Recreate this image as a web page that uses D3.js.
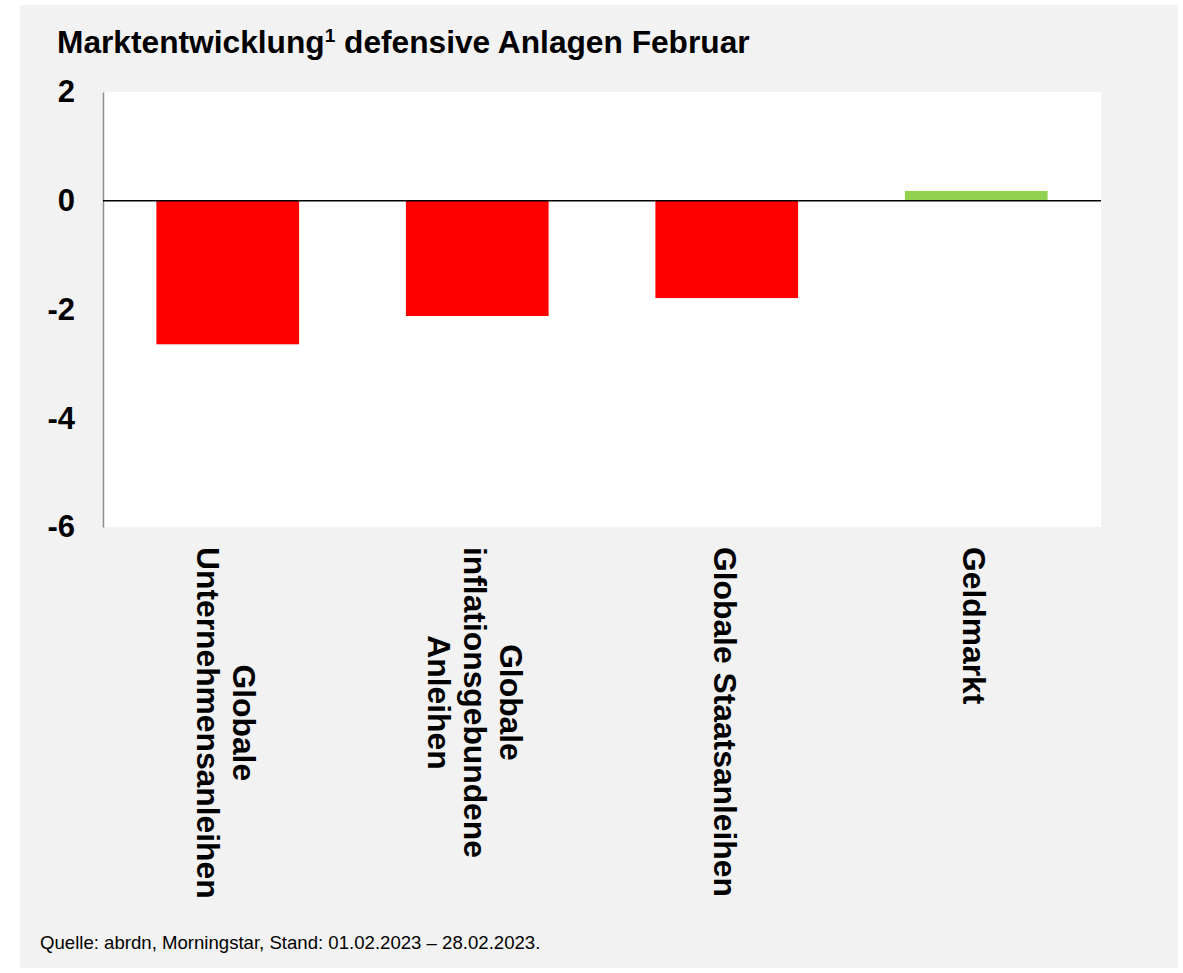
<!DOCTYPE html>
<html>
<head>
<meta charset="utf-8">
<script src="https://cdn.jsdelivr.net/npm/d3@7"></script>
<style>
    body { margin: 0; background: #ffffff; }
    svg { display: block; font-family: "Liberation Sans", Arial, sans-serif; }
</style>
</head>
<body>
<div id="chart"></div>
<script>
//DATA
let categories = [
    ['Globale', 'Unternehmensanleihen'],
    ['Globale', 'inflationsgebundene', 'Anleihen'],
    ['Globale Staatsanleihen'],
    ['Geldmarkt']
];
let values = [-2.64, -2.12, -1.79, 0.18];
let barColors = ['#ff0000', '#ff0000', '#ff0000', '#92d050'];
let yTicks = [2, 0, -2, -4, -6];
let title = 'Marktentwicklung';
let titleRest = ' defensive Anlagen Februar';
let source = 'Quelle: abrdn, Morningstar, Stand: 01.02.2023 \u2013 28.02.2023.';

//VARIABLES
let width = 1183, height = 973;
let margin = {top: 92, right: 82, bottom: 446, left: 103};
let innerW = width - margin.left - margin.right,
    innerH = height - margin.top - margin.bottom;

let svg = d3.select('#chart')
    .append('svg')
        .attr('width', width)
        .attr('height', height);

//Panel background
svg.append('rect')
    .attr('x', 20).attr('y', 5)
    .attr('width', 1158).attr('height', 963)
    .attr('fill', '#f2f2f2');

//Title
let titleText = svg.append('text')
    .attr('x', 57).attr('y', 53)
    .attr('font-size', 31.7)
    .attr('font-weight', 'bold')
    .attr('fill', '#000');
titleText.append('tspan').text(title);
titleText.append('tspan').text('1')
    .attr('font-size', 19)
    .attr('dy', -11);
titleText.append('tspan').text(titleRest)
    .attr('dy', 11);

let chart = svg.append('g')
    .attr('transform', 'translate(' + margin.left + ',' + margin.top + ')');

//Plot area
chart.append('rect')
    .attr('width', innerW)
    .attr('height', innerH)
    .attr('fill', '#ffffff');

//Scales
let x = d3.scaleBand()
    .domain(d3.range(categories.length))
    .range([0, innerW])
    .paddingInner(0.428)
    .paddingOuter(0.214);

let y = d3.scaleLinear()
    .domain([-6, 2])
    .range([innerH, 0]);

//Bars
chart.selectAll('.bar')
    .data(values)
    .enter()
    .append('rect')
    .attr('class', 'bar')
    .attr('x', function(d, i) { return x(i); })
    .attr('width', x.bandwidth())
    .attr('y', function(d) { return y(Math.max(0, d)); })
    .attr('height', function(d) { return Math.abs(y(d) - y(0)); })
    .attr('fill', function(d, i) { return barColors[i]; });

//Y Axis (plain hyphen for negatives, like the original)
let yAxis = chart.append('g')
    .attr('class', 'y_axis')
    .call(d3.axisLeft(y)
        .tickValues(yTicks)
        .tickFormat(function(d) { return String(d); })
        .tickSize(0)
        .tickPadding(28));
yAxis.select('.domain').attr('stroke', '#8c8c8c').attr('stroke-width', 1.5);
yAxis.selectAll('.tick text')
    .attr('font-family', '"Liberation Sans", Arial, sans-serif')
    .attr('font-size', 31)
    .attr('font-weight', 'bold')
    .attr('fill', '#000');

//Zero line
chart.append('line')
    .attr('x1', 0).attr('x2', innerW)
    .attr('y1', y(0)).attr('y2', y(0))
    .attr('stroke', '#000')
    .attr('stroke-width', 1.5);

//Category labels (rotated)
let lineH = 36;
let labels = chart.selectAll('.cat')
    .data(categories)
    .enter()
    .append('g')
    .attr('class', 'cat')
    .attr('transform', function(d, i) {
        return 'translate(' + (x(i) + x.bandwidth() / 2 - 2) + ',' + (innerH + 20) + ') rotate(90)';
    });

labels.each(function(lines) {
    let g = d3.select(this);
    let texts = g.selectAll('text')
        .data(lines)
        .enter()
        .append('text')
        .attr('font-size', 31.8)
        .attr('font-weight', 'bold')
        .attr('fill', '#000')
        .attr('text-anchor', 'middle')
        .attr('dominant-baseline', 'central')
        .attr('y', function(d, j) { return (j - (lines.length - 1) / 2) * lineH; })
        .text(function(d) { return d; });
    let maxLen = 0;
    texts.each(function() { maxLen = Math.max(maxLen, this.getComputedTextLength()); });
    texts.attr('x', maxLen / 2);
});

//Source
svg.append('text')
    .attr('x', 40).attr('y', 949)
    .attr('font-size', 18.6)
    .attr('fill', '#000')
    .text(source);
</script>
</body>
</html>
